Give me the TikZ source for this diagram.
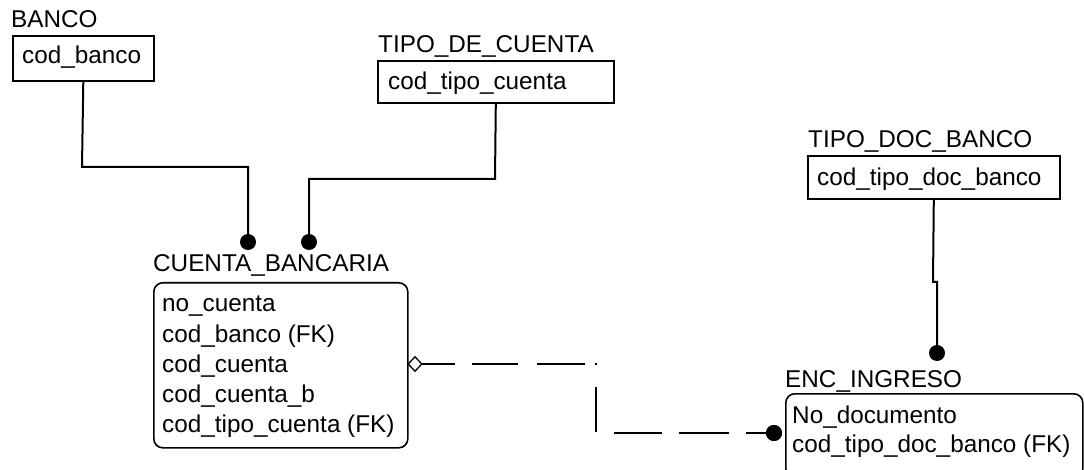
\documentclass[tikz,border=0pt]{standalone}
\usepackage{fontspec}
\setmainfont{Liberation Sans}
\usetikzlibrary{shapes.geometric}
\begin{document}
\begin{tikzpicture}[x=1pt,y=-1pt,
  every node/.style={font=\fontsize{24.3}{28}\selectfont},
  lbl/.style={anchor=base west, inner sep=0pt},
  ebox/.style={draw, rectangle, line width=1.6pt, inner sep=0pt, anchor=north west},
  rbox/.style={ebox, rounded corners=9pt},
  conn/.style={line width=2pt},
  dotm/.style={circle, fill=black, inner sep=0pt, minimum size=16pt},
  dia/.style={diamond, draw, fill=white, line width=1.3pt, inner sep=0pt, minimum width=14pt, minimum height=15pt}]
\useasboundingbox (0,0) rectangle (1084,470);
\clip (0,0) rectangle (1084,470);
\fill[white] (0,0) rectangle (1084,470);

% BANCO
\node[lbl] (bancoL) at (11,28) {BANCO};
\node[ebox, minimum width=141pt, minimum height=45pt] (banco) at (12,35) {};
\node[lbl] (bancoA) at (22,64) {cod\_banco};

% TIPO_DE_CUENTA
\node[lbl] (tcL) at (378,53) {TIPO\_DE\_CUENTA};
\node[ebox, minimum width=236pt, minimum height=42pt] (tc) at (377,60) {};
\node[lbl] (tcA) at (388,90) {cod\_tipo\_cuenta};

% TIPO_DOC_BANCO
\node[lbl] (tdL) at (808,148) {TIPO\_DOC\_BANCO};
\node[ebox, minimum width=252pt, minimum height=43pt] (td) at (807,155) {};
\node[lbl] (tdA) at (817,186) {cod\_tipo\_doc\_banco};

% CUENTA_BANCARIA
\node[lbl] (cbL) at (153,272) {CUENTA\_BANCARIA};
\node[rbox, minimum width=254pt, minimum height=165pt] (cb) at (153,282) {};
\node[lbl] (cb1) at (162,312) {no\_cuenta};
\node[lbl] (cb2) at (162,342) {cod\_banco (FK)};
\node[lbl] (cb3) at (162,372) {cod\_cuenta};
\node[lbl] (cb4) at (162,402) {cod\_cuenta\_b};
\node[lbl] (cb5) at (162,432) {cod\_tipo\_cuenta (FK)};

% ENC_INGRESO
\node[lbl] (eiL) at (785,387) {ENC\_INGRESO};
\node[rbox, minimum width=297pt, minimum height=84pt] (ei) at (785,393) {};
\node[lbl] (ei1) at (792,423) {No\_documento};
\node[lbl] (ei2) at (792,452) {cod\_tipo\_doc\_banco (FK)};

% end markers
\node[dotm] (d1) at (248,242) {};
\node[dotm] (d2) at (309,242) {};
\node[dotm] (d3) at (937,353) {};
\node[dotm] (d4) at (774,433) {};

% solid connectors
\draw[conn] (banco.south) -- (82,167) -- (248,167) -- (d1.center);
\draw[conn] (tc.south) -- (495,179) -- (309,179) -- (d2.center);
\coordinate (jogA) at (933,282);
\coordinate (jogB) at (937,282);
\draw[conn] (td.south) -- (jogA) -- (jogB) -- (d3.center);

% dashed non-identifying connector
\coordinate (c1) at (596,364);
\coordinate (c2) at (596,433);
\draw[conn, dash pattern=on 46pt off 17pt on 46pt off 19pt on 48pt off 10pt on 2pt off 22pt on 45pt off 19pt on 48pt off 17pt on 50pt off 17pt on 200pt off 10pt]
  (409,364) -- (c1) -- (c2) -- (d4.center);
\node[dia] (dm) at (415,364) {};
\node[dotm] at (d4) {};
\end{tikzpicture}
\end{document}
